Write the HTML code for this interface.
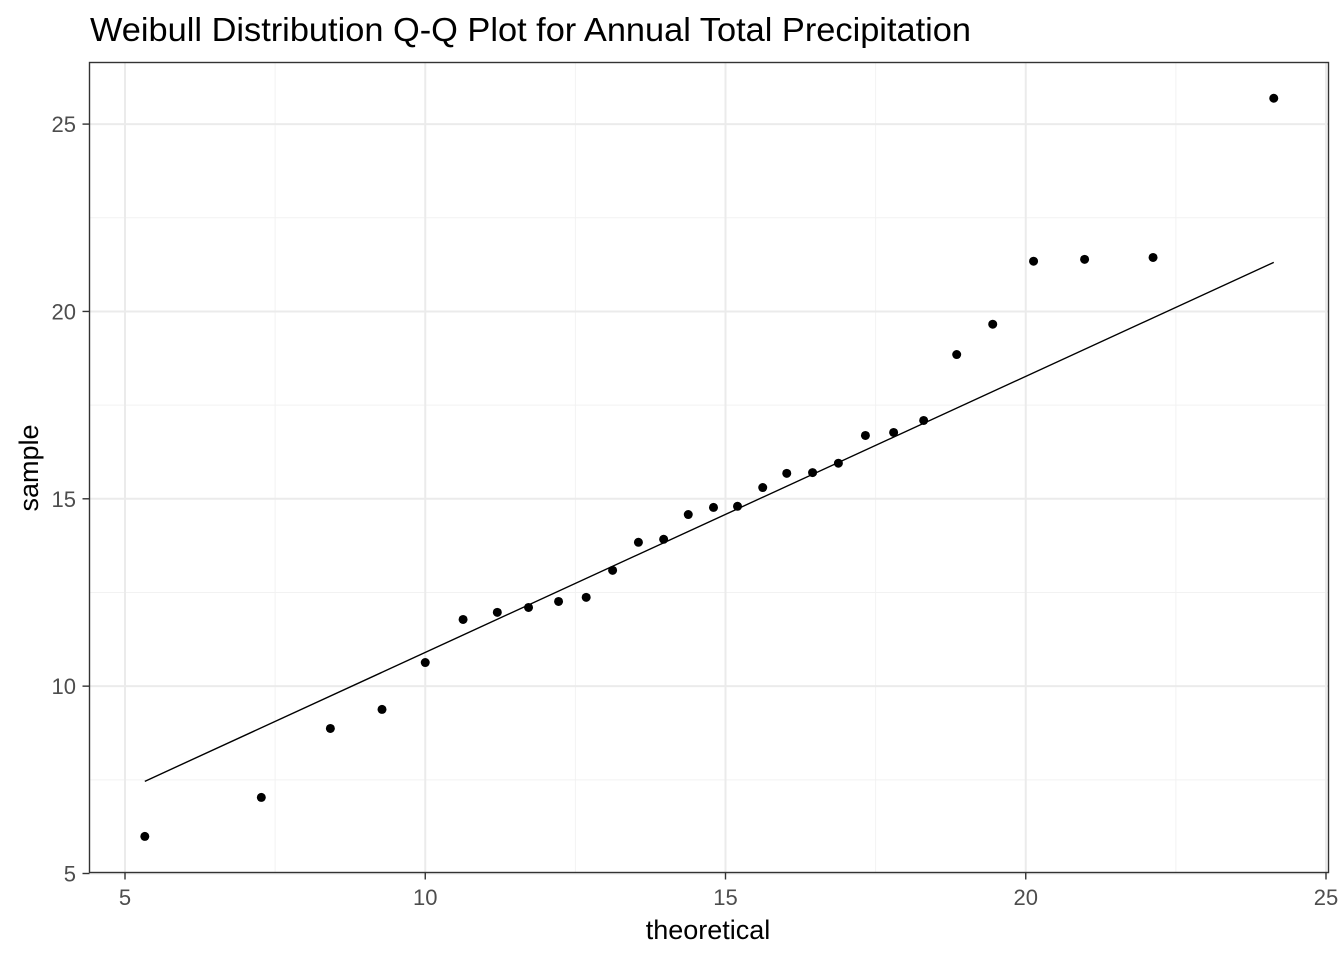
<!DOCTYPE html>
<html><head><meta charset="utf-8"><style>
body{margin:0;background:#fff;}
svg text{font-family:"Liberation Sans",Arial,sans-serif;}
</style></head><body>
<svg id="chart" width="1344" height="960" xmlns="http://www.w3.org/2000/svg">
<rect width="1344" height="960" fill="#fff"/>
<text x="90" y="41" font-size="33" textLength="881" lengthAdjust="spacingAndGlyphs" fill="#000">Weibull Distribution Q-Q Plot for Annual Total Precipitation</text>
<g id="grid"></g>
<g id="marks"></g>
<rect x="89.5" y="62.5" width="1239" height="810" fill="none" stroke="#333" stroke-width="1.4"/>
<g id="axes"></g>
<text x="708" y="939" font-size="27" text-anchor="middle" fill="#000">theoretical</text>
<text transform="translate(38,468) rotate(-90)" font-size="27" text-anchor="middle" fill="#000">sample</text>
</svg>
<script>
const theoretical=[5.33,7.27,8.42,9.28,10.0,10.63,11.2,11.72,12.22,12.68,13.12,13.55,13.97,14.38,14.8,15.2,15.62,16.02,16.45,16.88,17.33,17.8,18.3,18.85,19.45,20.13,20.98,22.12,24.13];
const sample=[5.99,7.03,8.87,9.38,10.63,11.78,11.97,12.1,12.26,12.37,13.09,13.84,13.92,14.58,14.77,14.8,15.3,15.68,15.7,15.95,16.69,16.77,17.09,18.85,19.66,21.34,21.39,21.44,25.69];
const lineX=[5.33,24.13];
const lineY=[7.46,21.31];
const xTicks=[5,10,15,20,25];
const yTicks=[5,10,15,20,25];
const xMinor=[7.5,12.5,17.5,22.5];
const yMinor=[7.5,12.5,17.5,22.5];
const NS='http://www.w3.org/2000/svg';
const sx=v=>125+(v-5)*60.05;
const sy=v=>873.5-(v-5)*37.47;
function mk(tag,attrs,parent){const e=document.createElementNS(NS,tag);for(const k in attrs)e.setAttribute(k,attrs[k]);document.getElementById(parent).appendChild(e);return e;}
const L=89.5,R=1328.5,T=62.5,B=872.5;
xMinor.forEach(v=>{const e=mk('line',{x1:sx(v),x2:sx(v),y1:T,y2:B,stroke:'#f2f2f2','stroke-width':1},'grid');

});
yMinor.forEach(v=>{const e=mk('line',{x1:L,x2:R,y1:sy(v),y2:sy(v),stroke:'#f2f2f2','stroke-width':1},'grid');

});
xTicks.forEach(v=>{const e=mk('line',{x1:sx(v),x2:sx(v),y1:T,y2:B,stroke:'#ebebeb','stroke-width':2},'grid');


const t=mk('line',{x1:sx(v),x2:sx(v),y1:B,y2:B+7,stroke:'#333','stroke-width':1.4},'axes');


const l=mk('text',{x:sx(v),y:905,'font-size':22,'text-anchor':'middle',fill:'#4d4d4d'},'axes');l.textContent=v;

});
yTicks.forEach(v=>{const e=mk('line',{x1:L,x2:R,y1:sy(v),y2:sy(v),stroke:'#ebebeb','stroke-width':2},'grid');


const t=mk('line',{x1:L-7,x2:L,y1:sy(v),y2:sy(v),stroke:'#333','stroke-width':1.4},'axes');


const l=mk('text',{x:76,y:sy(v)+8,'font-size':22,'text-anchor':'end',fill:'#4d4d4d'},'axes');l.textContent=v;

});
const ln=mk('line',{x1:sx(lineX[0]),y1:sy(lineY[0]),x2:sx(lineX[1]),y2:sy(lineY[1]),stroke:'#000','stroke-width':1.4},'marks');


theoretical.forEach((x,i)=>{const c=mk('circle',{cx:sx(x),cy:sy(sample[i]),r:4.5,fill:'#000'},'marks');

});
</script>
</body></html>
